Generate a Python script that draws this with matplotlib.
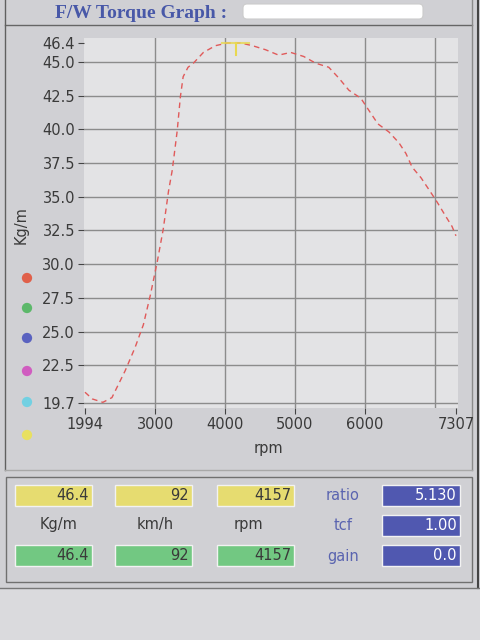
import matplotlib
matplotlib.use('Agg')
import matplotlib.pyplot as plt
from matplotlib.patches import Rectangle, FancyBboxPatch

# torque curve
rpm = [1994, 2100, 2250, 2380, 2570, 2710, 2830, 2930, 3030, 3115, 3190, 3245,
       3315, 3360, 3400, 3470, 3546, 3690, 3862, 4034, 4157, 4221, 4393, 4580, 4767,
       4940, 5126, 5299, 5485, 5629, 5773, 5945, 6060, 6189, 6347, 6490, 6591,
       6678, 6807, 6936, 7037, 7166, 7250, 7307]
torque = [20.5, 20.0, 19.75, 20.1, 22.1, 23.8, 25.5, 27.7, 30.2, 32.6, 35.4, 37.0,
          39.9, 42.4, 43.9, 44.6, 44.9, 45.7, 46.2, 46.4, 46.4, 46.4, 46.2, 45.9, 45.5,
          45.7, 45.4, 44.9, 44.6, 43.8, 42.9, 42.3, 41.4, 40.4, 39.8, 39.0, 38.2,
          37.2, 36.4, 35.4, 34.6, 33.5, 32.8, 32.1]

yticks = [19.7, 22.5, 25.0, 27.5, 30.0, 32.5, 35.0, 37.5, 40.0, 42.5, 45.0, 46.4]
xticks = [1994, 3000, 4000, 5000, 6000, 7307]
xgrid = [3000, 4000, 5000, 6000, 7000]
ygrid = [19.7, 22.5, 25.0, 27.5, 30.0, 32.5, 35.0, 37.5, 40.0, 42.5, 45.0]
cursor_rpm = 4157
cursor_torque = 46.4

top_row = ['46.4', '92', '4157']
bottom_row = ['46.4', '92', '4157']
units = ['Kg/m', 'km/h', 'rpm']
param_names = ['ratio', 'tcf', 'gain']
param_values = ['5.130', '1.00', '0.0']
dot_colors = ['#e0604a', '#5cb86a', '#5a62c0', '#d05cc0', '#72d0e2', '#e8e060']

panel = '#d0d0d4'
txt = '#3a3a3a'
blue_txt = '#5a64b0'

fig = plt.figure(figsize=(4.8, 6.4), dpi=100, facecolor=panel)

# pixel-space overlay for the frame, boxes and texts
bg = fig.add_axes([0, 0, 1, 1], zorder=0)
bg.set_xlim(0, 480)
bg.set_ylim(640, 0)
bg.axis('off')

bg.add_patch(Rectangle((0, 588), 480, 52, fc='#dadadd', ec='none'))

# frame lines
bg.plot([5, 472], [25, 25], color='#666666', lw=1)
bg.plot([5, 5], [0, 470], color='#606060', lw=1)
bg.plot([472, 472], [0, 470], color='#8a8a8a', lw=1)
bg.plot([478, 478], [0, 588], color='#444444', lw=1.5)
bg.plot([5, 472], [470, 470], color='#a8a8a8', lw=1)
bg.add_patch(Rectangle((6, 477), 466, 105, fc='none', ec='#707070', lw=1))
bg.plot([0, 480], [588, 588], color='#777777', lw=1)

# title
bg.text(55, 13, 'F/W Torque Graph :', ha='left', va='center', fontsize=14,
        fontweight='bold', family=['Liberation Serif', 'DejaVu Serif'], color='#4858a8')
bg.add_patch(FancyBboxPatch((243, 4), 180, 15, boxstyle='round,pad=0,rounding_size=4',
                            fc='white', ec='#cccccc', lw=0.8))

# plot background
bg.add_patch(Rectangle((84, 38), 374, 370, fc='#e3e3e5', ec='none'))

# axis labels and legend dots
bg.text(268, 449, 'rpm', ha='center', va='center', fontsize=10.5, color=txt)
bg.text(21, 225, 'Kg/m', ha='center', va='center', rotation=90, fontsize=10.5, color=txt)
bg.scatter([27] * len(dot_colors), [278, 308, 338, 371, 402, 435], s=55, c=dot_colors,
           edgecolors='none')

# readout panel
for i, x0 in enumerate([15, 115, 217]):
    bg.add_patch(Rectangle((x0, 485), 77, 21, fc='#e6dc70', ec='#f2f2f2', lw=1))
    bg.text(x0 + 74, 496, top_row[i], ha='right', va='center', fontsize=10.5, color=txt)
    bg.add_patch(Rectangle((x0, 545), 77, 21, fc='#72c882', ec='#f2f2f2', lw=1))
    bg.text(x0 + 74, 556, bottom_row[i], ha='right', va='center', fontsize=10.5, color=txt)
    bg.text([59, 155, 248][i], 525, units[i], ha='center', va='center', fontsize=10.5, color=txt)

for i, y0 in enumerate([485, 515, 545]):
    bg.text(343, y0 + 11, param_names[i], ha='center', va='center', fontsize=10.5, color=blue_txt)
    bg.add_patch(Rectangle((382, y0), 78, 21, fc='#5058b0', ec='#f2f2f2', lw=1))
    bg.text(457, y0 + 11, param_values[i], ha='right', va='center', fontsize=10.5, color='white')

# the graph itself
ax = fig.add_axes([84 / 480, 1 - 408 / 640, 374 / 480, 370 / 640], zorder=1)
ax.set_facecolor('none')
ax.set_xlim(1980, 7336)
ax.set_ylim(19.33, 46.77)
for s in ax.spines.values():
    s.set_visible(False)

for x in xgrid:
    ax.axvline(x, color='#8c8c8c', lw=1)
for y in ygrid:
    ax.axhline(y, color='#8c8c8c', lw=1)

ax.set_xticks(xticks)
ax.set_xticklabels([str(v) for v in xticks])
ax.set_yticks(yticks)
ax.set_yticklabels(['%.1f' % v for v in yticks])
ax.tick_params(direction='out', length=4.5, width=0.8, color='#444444',
               labelsize=10.5, labelcolor=txt, pad=2)

ax.plot(rpm, torque, color='#e05a5a', lw=1, dashes=(4, 3))

# yellow cursor
ax.plot([cursor_rpm, cursor_rpm], [cursor_torque, 45.5], color='#e8d850', lw=1.5)
ax.plot([3950, 4350], [cursor_torque, cursor_torque], color='#e8d850', lw=1.5, alpha=0.8)

fig.savefig('out.png', dpi=100, facecolor=panel)
